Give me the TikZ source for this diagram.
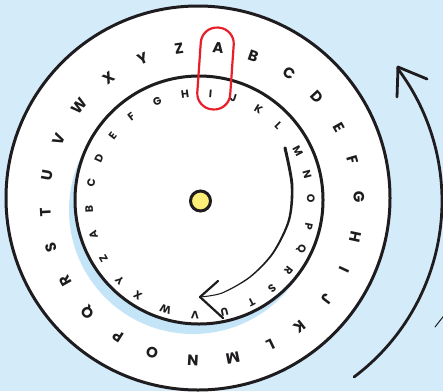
\documentclass[tikz,border=0pt]{standalone}
\usepackage{fontspec}
\setmainfont{Poppins}
\definecolor{bg}{RGB}{212,235,250}
\definecolor{shadowblue}{RGB}{196,229,248}
\definecolor{ink}{RGB}{30,28,30}
\definecolor{redloop}{RGB}{232,30,40}
\definecolor{dotyellow}{RGB}{253,238,120}
\begin{document}
\begin{tikzpicture}[x=1pt,y=-1pt,
  outerletter/.style={font=\fontsize{15}{15}\selectfont\bfseries, text=ink, inner sep=0pt},
  innerletter/.style={font=\fontsize{10.8}{10.8}\selectfont\bfseries, text=ink, inner sep=0pt},
  ring/.style={circle, draw=ink, fill=white, line width=3pt, inner sep=0pt},
  arrowline/.style={draw=ink, line cap=round, line join=round}]
\useasboundingbox (0,0) rectangle (443,391);
\clip (0,0) rectangle (443,391);
\fill[bg] (0,0) rectangle (443,391);
% outer rotation arrow
\coordinate (otip) at (398,67);
\draw[arrowline, line width=2.8pt] (222,201) ++(53.1:220) arc[start angle=53.1, end angle=-37.1, radius=220];
\draw[arrowline, line width=2.8pt] (otip) -- (397,97);
\draw[arrowline, line width=2.8pt] (otip) -- (427,79);
\coordinate (frag) at (435,327);
\draw[arrowline, line width=1pt] (frag) -- (446,313);
% outer ring
\node[ring, minimum size=384pt] (outer) at (198,198) {};
% shadow and inner ring
\fill[shadowblue] (193,210) circle (124);
\node[ring, minimum size=248pt] (inner) at (199,200) {};
% outer letters
\foreach \l/\a [count=\k] in {A/5.9, B/19.1, C/33.7, D/47.1, E/60.8, F/73.7, G/87.4, H/102.2, I/114.9, J/127.2, K/141.3, L/154.1, M/168.6, N/183.3, O/198.5, P/212.4, Q/226.5, R/240.6, S/254.1, T/266.8, U/280.5, V/294.5, W/308.4, X/323.5, Y/337.7, Z/351.6}
  \node[outerletter, rotate=-\a] (o\k) at ({202+157*sin(\a)},{204-157*cos(\a)}) {\l};
% inner letters
\foreach \l/\a [count=\k] in {A/253.8, B/267.4, C/281.2, D/294.5, E/308.1, F/321.8, G/337.3, H/352.2, I/5.4, J/17.6, K/31.8, L/45, M/61.8, N/74.6, O/87.4, P/101.5, Q/114, R/127.1, S/139.5, T/152.3, U/167.3, V/182.6, W/198.1, X/214.1, Y/226.4, Z/240.3}
  \node[innerletter, rotate=-\a] (i\k) at ({200+111*sin(\a)},{204-111*cos(\a)}) {\l};
% inner tapered arrow
\fill[ink] plot[smooth] coordinates {(286.35,147.14) (293.37,184.72) (290.14,220.18) (273.77,253.47) (250.42,277.56) (222.16,293.53) (200.03,297.5)}
  -- plot[smooth] coordinates {(199.97,296.5) (221.84,292.47) (249.58,276.44) (272.23,252.53) (287.86,219.82) (290.63,185.28) (283.65,148.86)} -- cycle;
\fill[ink] (285,148) circle (1.6);
\coordinate (itip) at (200,297);
\draw[arrowline, line width=2.2pt] (itip) -- (218,281);
\draw[arrowline, line width=2.2pt] (itip) -- (223,318);
% centre pin
\node[circle, draw=ink, fill=dotyellow, line width=3pt, minimum size=20pt, inner sep=0pt] (pin) at (200.5,201) {};
% red loop
\node[draw=redloop, line width=2.2pt, rounded corners=16pt, minimum width=33pt, minimum height=82pt, rotate=-4, inner sep=0pt] (loop) at (215.5,68.5) {};
\end{tikzpicture}
\end{document}
